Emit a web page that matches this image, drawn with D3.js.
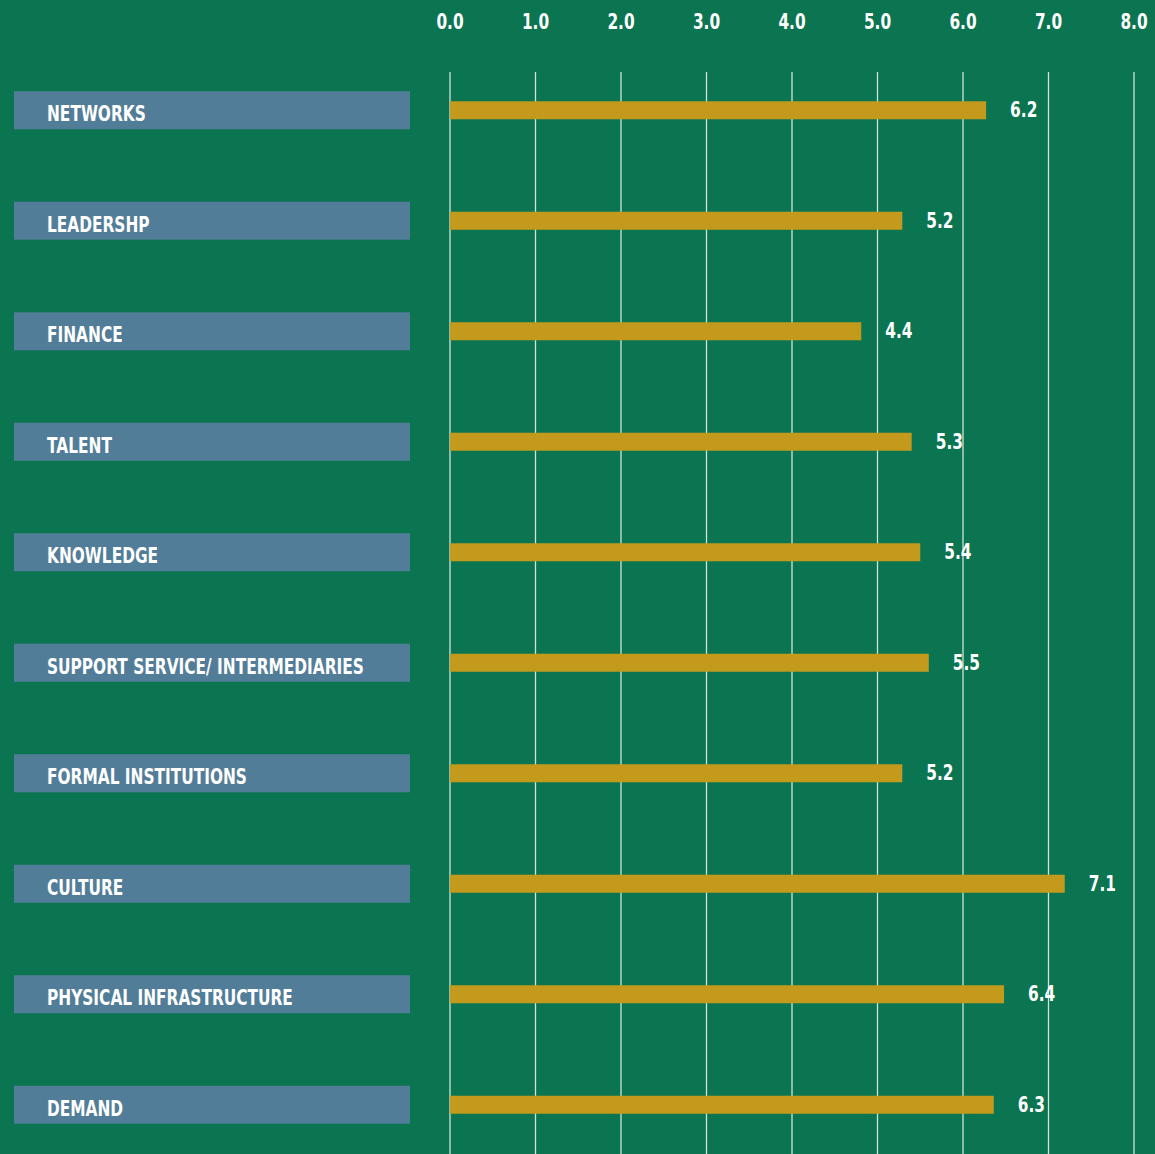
<!DOCTYPE html>
<html>
<head>
<meta charset="utf-8">
<script src="https://cdn.jsdelivr.net/npm/d3@7"></script>
<style>
  html, body { margin: 0; padding: 0; background: #0b7450; }
  svg { display: block; }
  text { font-family: "DejaVu Sans", sans-serif; font-weight: bold; fill: #fff; font-size: 22px; }
</style>
</head>
<body>
<div id="chart"></div>
<script>
// Chart data
var categories = ["NETWORKS", "LEADERSHP", "FINANCE", "TALENT", "KNOWLEDGE",
    "SUPPORT SERVICE/ INTERMEDIARIES", "FORMAL INSTITUTIONS", "CULTURE",
    "PHYSICAL INFRASTRUCTURE", "DEMAND"];
// printed scores
var scores = ["6.2", "5.2", "4.4", "5.3", "5.4", "5.5", "5.2", "7.1", "6.4", "6.3"];
// bar lengths as drawn in the original (they don't quite match the printed scores)
var barLengths = [6.27, 5.29, 4.81, 5.40, 5.50, 5.60, 5.29, 7.19, 6.48, 6.36];
var tickValues = [0, 1, 2, 3, 4, 5, 6, 7, 8];

// no condensed font available, so squeeze the text horizontally
var squeeze = 0.7;

function whenDocumentLoaded(action) {
    if (document.readyState === "loading") {
        document.addEventListener("DOMContentLoaded", action);
    } else {
        action();
    }
}

// place a squeezed text at (px, py)
function narrowText(sel, px, py) {
    return sel.attr("x", 0).attr("y", 0)
        .attr("transform", function(d, i) {
            return "translate(" + px(d, i) + "," + py(d, i) + ") scale(" + squeeze + ",1)";
        });
}

function drawChart() {
    var width = 1155, height = 1154;

    var svg = d3.select("#chart").append("svg")
        .attr("width", width)
        .attr("height", height);

    svg.append("rect")
        .attr("width", width)
        .attr("height", height)
        .attr("fill", "#0b7450");

    var x = d3.scaleLinear().domain([0, 8]).range([450, 1134]);
    var y = d3.scaleBand().domain(categories).range([55, 1160]);

    // top axis labels
    svg.selectAll("text.tick")
        .data(tickValues)
        .enter()
        .append("text")
        .attr("class", "tick")
        .attr("text-anchor", "middle")
        .text(function(d) { return d3.format(".1f")(d); })
        .call(narrowText, function(d) { return x(d); }, function() { return 29; });

    // vertical gridlines
    svg.selectAll("line.grid")
        .data(tickValues)
        .enter()
        .append("line")
        .attr("class", "grid")
        .attr("x1", function(d) { return x(d); })
        .attr("x2", function(d) { return x(d); })
        .attr("y1", 72)
        .attr("y2", height)
        .style("stroke", "#fff")
        .style("stroke-opacity", 0.8)
        .style("stroke-width", 1.3);

    var rows = svg.selectAll("g.row")
        .data(categories)
        .enter()
        .append("g")
        .attr("class", "row")
        .attr("transform", function(d) { return "translate(0," + (y(d) + y.bandwidth() / 2) + ")"; });

    // category label boxes
    rows.append("rect")
        .attr("x", 14)
        .attr("y", -19)
        .attr("width", 396)
        .attr("height", 38)
        .attr("fill", "#527d98");

    rows.append("text")
        .text(function(d) { return d; })
        .call(narrowText, function() { return 47; }, function() { return 11; });

    // bars
    rows.append("rect")
        .attr("x", x(0))
        .attr("y", -9)
        .attr("height", 18)
        .attr("width", function(d, i) { return x(barLengths[i]) - x(0); })
        .attr("fill", "#c39a1b");

    // value labels
    rows.append("text")
        .text(function(d, i) { return scores[i]; })
        .call(narrowText, function(d, i) { return x(barLengths[i]) + 24; }, function() { return 7; });
}

whenDocumentLoaded(drawChart);
</script>
</body>
</html>
